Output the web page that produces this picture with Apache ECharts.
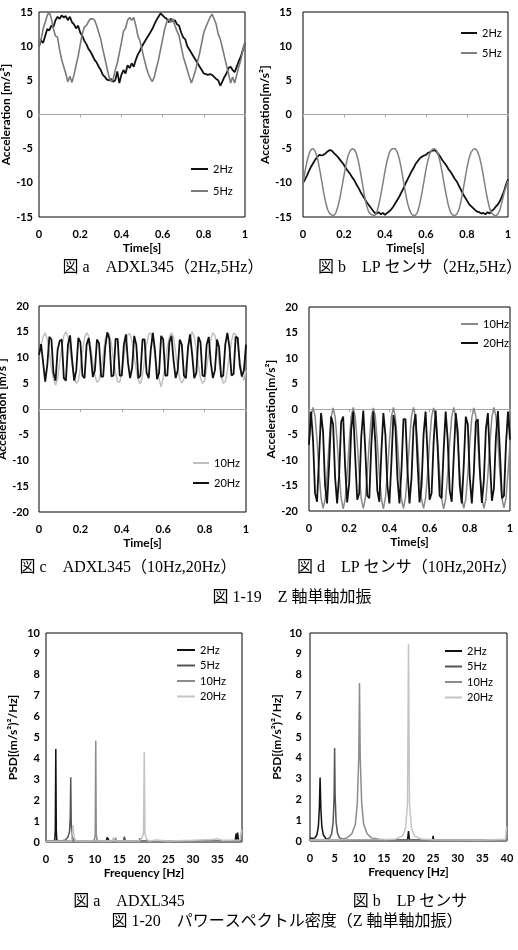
<!DOCTYPE html>
<html>
<head>
<meta charset="utf-8">
<title>Z軸単軸加振</title>
<script src="https://cdn.jsdelivr.net/npm/echarts@6.0.0/dist/echarts.min.js"></script>
<style>
  html, body { margin: 0; padding: 0; background: #fff; }
  #chart { width: 518px; height: 950px; }
</style>
</head>
<body>
<div id="chart"></div>
<script>
// sample times [s]
const time = [
  0, 0.01, 0.02, 0.03, 0.04, 0.05, 0.06, 0.07, 0.08, 0.09,
  0.1, 0.11, 0.12, 0.13, 0.14, 0.15, 0.16, 0.17, 0.18, 0.19,
  0.2, 0.21, 0.22, 0.23, 0.24, 0.25, 0.26, 0.27, 0.28, 0.29,
  0.3, 0.31, 0.32, 0.33, 0.34, 0.35, 0.36, 0.37, 0.38, 0.39,
  0.4, 0.41, 0.42, 0.43, 0.44, 0.45, 0.46, 0.47, 0.48, 0.49,
  0.5, 0.51, 0.52, 0.53, 0.54, 0.55, 0.56, 0.57, 0.58, 0.59,
  0.6, 0.61, 0.62, 0.63, 0.64, 0.65, 0.66, 0.67, 0.68, 0.69,
  0.7, 0.71, 0.72, 0.73, 0.74, 0.75, 0.76, 0.77, 0.78, 0.79,
  0.8, 0.81, 0.82, 0.83, 0.84, 0.85, 0.86, 0.87, 0.88, 0.89,
  0.9, 0.91, 0.92, 0.93, 0.94, 0.95, 0.96, 0.97, 0.98, 0.99,
  1
]

// 図a ADXL345 [m/s^2]
const adxl2Hz = [
  10.0, 10.8, 10.5, 11.5, 12.5, 12.3, 13.0, 12.8, 13.8, 14.3,
  14.0, 14.5, 14.2, 14.4, 13.8, 14.3, 13.5, 13.2, 12.6, 13.0,
  12.0, 11.5, 10.8, 10.3, 9.6, 9.2, 8.6, 8.0, 7.6, 7.0,
  6.5, 5.8, 5.5, 5.1, 5.0, 5.2, 4.8, 5.0, 6.3, 4.6,
  5.8, 6.5, 6.0, 7.2, 6.8, 7.5, 7.0, 8.0, 8.8, 9.3,
  10.0, 10.5, 11.0, 11.5, 12.0, 12.5, 13.2, 13.8, 14.3, 14.8,
  14.5, 14.2, 14.0, 13.5, 14.0, 13.6, 13.8, 13.2, 13.0, 12.0,
  11.3, 11.0, 10.0, 9.5, 9.0, 8.5, 8.0, 7.5, 7.0, 6.5,
  6.0, 5.9, 5.8, 5.9, 5.8, 5.5, 5.2, 5.0, 4.2, 4.8,
  5.5, 6.0, 6.8, 7.0, 6.5, 6.2, 7.0, 7.8, 8.5, 9.5,
  10.5
]
const adxl5Hz = [
  10.0, 11.0, 12.5, 13.5, 14.5, 15.0, 14.0, 12.5, 11.5, 11.3,
  9.5, 8.0, 7.0, 6.0, 4.8, 5.6, 4.7, 5.8, 7.2, 8.5,
  10.2, 11.8, 12.8, 13.0, 13.6, 14.0, 14.0, 13.8, 13.0, 12.0,
  11.0, 9.5, 8.2, 6.8, 5.5, 4.8, 5.2, 6.5, 7.5, 9.0,
  10.5, 12.2, 12.6, 13.8, 14.2, 13.8, 14.2, 13.0, 11.5, 10.8,
  9.5, 8.2, 7.0, 6.0, 5.3, 4.8, 5.5, 6.8, 8.0, 9.5,
  11.0, 12.5, 13.5, 14.0, 13.5, 14.0, 13.0, 12.2, 11.5, 10.0,
  8.5, 7.5, 6.5, 5.5, 4.6, 5.5, 6.5, 7.8, 9.0, 10.5,
  12.0, 12.8, 13.5, 14.2, 14.7, 14.0, 13.2, 11.8, 11.0, 9.8,
  8.5, 7.2, 6.0, 4.6, 5.5, 4.6, 5.8, 7.0, 8.0, 9.5,
  10.5
]

// 図b LPセンサ [m/s^2]
const lp2Hz = [
  -10.0, -9.5, -8.9, -8.2, -7.6, -7.1, -6.6, -6.2, -5.9, -6.0,
  -5.9, -5.7, -5.4, -5.2, -5.3, -5.6, -5.9, -6.2, -6.6, -7.0,
  -7.4, -7.9, -8.3, -8.7, -9.2, -9.6, -10.2, -10.7, -11.3, -11.8,
  -12.3, -12.8, -13.2, -13.6, -14.0, -14.4, -14.5, -14.3, -14.6, -14.4,
  -14.7, -14.4, -14.2, -13.9, -13.5, -13.0, -12.5, -12.0, -11.4, -10.8,
  -10.1, -9.5, -8.9, -8.3, -7.8, -7.2, -6.8, -6.4, -6.2, -6.0,
  -5.9, -5.6, -5.5, -5.3, -5.2, -5.4, -5.8, -6.2, -6.7, -7.1,
  -7.5, -8.0, -8.4, -8.9, -9.4, -9.8, -10.4, -11.0, -11.6, -12.1,
  -12.6, -13.1, -13.4, -13.7, -14.0, -14.2, -14.3, -14.5, -14.4, -14.6,
  -14.3, -14.5, -14.1, -13.9, -13.5, -13.2, -12.7, -12.0, -11.3, -10.3,
  -9.5
]
const lp5Hz = [
  -10.0, -8.3, -6.8, -5.7, -5.1, -5.0, -5.4, -6.3, -7.8, -9.5,
  -11.3, -12.8, -13.9, -14.5, -14.7, -14.8, -14.4, -13.5, -12.2, -10.6,
  -8.9, -7.3, -6.0, -5.3, -5.0, -5.1, -5.7, -6.8, -8.4, -10.2,
  -11.9, -13.3, -14.2, -14.6, -14.7, -14.8, -14.3, -13.2, -11.7, -10.0,
  -8.3, -6.8, -5.7, -5.1, -5.0, -5.0, -5.5, -6.5, -8.0, -9.8,
  -11.5, -13.0, -14.0, -14.6, -14.8, -14.7, -14.2, -13.0, -11.5, -9.8,
  -8.0, -6.6, -5.6, -5.1, -5.0, -5.2, -5.9, -7.1, -8.7, -10.4,
  -12.0, -13.4, -14.3, -14.7, -14.8, -14.6, -14.0, -12.8, -11.2, -9.5,
  -7.8, -6.4, -5.5, -5.1, -5.0, -5.3, -6.1, -7.4, -9.0, -10.8,
  -12.4, -13.7, -14.4, -14.7, -14.8, -14.6, -14.0, -12.9, -11.6, -10.6,
  -9.7
]

// 図c ADXL345 [m/s^2]
const adxl10Hz = [
  10.5, 12.5, 14.0, 14.8, 13.5, 11.0, 8.0, 5.8, 4.6, 6.0,
  9.0, 12.0, 14.2, 15.0, 14.0, 11.5, 8.5, 6.0, 5.0, 5.5,
  8.0, 11.0, 13.8, 14.8, 14.2, 12.0, 9.0, 6.5, 5.2, 5.5,
  7.5, 10.5, 13.5, 14.8, 14.5, 12.5, 9.5, 7.0, 5.3, 5.2,
  7.0, 10.0, 13.0, 14.5, 14.6, 13.0, 10.0, 7.5, 5.5, 4.9,
  6.5, 9.5, 12.5, 14.5, 14.8, 13.5, 10.5, 7.8, 5.8, 4.3,
  6.0, 9.0, 12.0, 14.0, 14.8, 14.0, 11.0, 8.0, 6.0, 5.0,
  5.8, 8.5, 11.5, 14.0, 15.0, 14.0, 11.5, 8.5, 6.0, 5.0,
  5.5, 8.0, 11.0, 13.5, 14.8, 14.3, 12.0, 9.0, 6.5, 5.0,
  5.3, 7.5, 10.5, 13.2, 14.7, 14.5, 12.5, 9.5, 7.0, 5.5,
  7.5
]
const adxl20Hz = [
  10.5, 12.6, 9.0, 5.3, 8.5, 14.0, 13.5, 7.0, 5.5, 11.5,
  13.2, 13.5, 6.0, 5.5, 12.5, 14.3, 9.5, 5.5, 7.5, 13.8,
  13.0, 6.5, 6.0, 12.5, 13.8, 10.5, 6.2, 7.5, 13.5, 12.8,
  6.3, 6.3, 12.0, 14.9, 13.6, 6.3, 6.5, 13.6, 13.6, 6.5,
  6.5, 12.5, 14.5, 9.0, 6.0, 8.0, 14.2, 12.5, 6.0, 6.5,
  13.5, 13.5, 7.0, 6.0, 11.5, 14.8, 11.5, 5.8, 7.0, 14.2,
  13.5, 6.5, 6.5, 13.0, 14.2, 9.5, 6.0, 7.5, 13.5, 12.5,
  6.5, 6.0, 12.0, 14.5, 10.5, 6.0, 7.0, 14.0, 13.0, 6.5,
  6.3, 12.5, 14.0, 9.0, 6.0, 7.5, 13.5, 12.0, 6.2, 6.5,
  12.5, 14.8, 12.0, 6.5, 6.8, 14.0, 13.8, 8.5, 6.3, 7.5,
  12.5
]

// 図d LPセンサ [m/s^2]
const lp10Hz = [
  -6.5, -1.6, 0.3, -1.4, -6.2, -12.5, -17.4, -19.5, -17.8, -12.9,
  -6.6, -1.7, 0.2, -1.5, -6.4, -12.6, -17.5, -19.6, -17.7, -12.8,
  -6.5, -1.5, 0.3, -1.6, -6.5, -12.7, -17.6, -19.5, -17.6, -12.7,
  -6.4, -1.6, 0.2, -1.5, -6.6, -12.8, -17.5, -19.6, -17.5, -12.6,
  -6.5, -1.5, 0.3, -1.7, -6.6, -12.7, -17.7, -19.5, -17.4, -12.5,
  -6.3, -1.4, 0.3, -1.6, -6.7, -12.9, -17.7, -19.5, -17.5, -12.6,
  -6.4, -1.5, 0.2, -1.6, -6.5, -12.8, -17.6, -19.6, -17.6, -12.7,
  -6.5, -1.6, 0.3, -1.5, -6.4, -12.6, -17.5, -19.5, -17.7, -12.8,
  -6.6, -1.7, 0.2, -1.4, -6.3, -12.5, -17.4, -19.5, -17.8, -12.9,
  -6.6, -1.6, 0.3, -1.5, -6.4, -12.7, -17.6, -19.4, -17.5, -12.6,
  -6.5
]
const lp20Hz = [
  -7.0, -0.5, -6.0, -16.5, -18.2, -9.5, -0.8, -4.5, -15.0, -18.5,
  -11.0, -1.5, -3.0, -13.5, -18.5, -13.0, -2.5, -1.5, -11.5, -18.3,
  -14.5, -4.0, -0.5, -9.5, -17.8, -16.5, -5.5, -0.3, -8.0, -17.0,
  -17.5, -7.0, -0.5, -6.5, -16.0, -18.2, -8.5, -0.8, -5.0, -15.0,
  -18.5, -10.5, -1.2, -3.5, -13.5, -18.5, -12.0, -2.0, -2.0, -12.0,
  -18.5, -13.5, -3.5, -1.0, -10.5, -18.3, -15.0, -5.0, -0.5, -9.0,
  -17.8, -16.5, -6.5, -0.3, -7.5, -17.0, -17.5, -8.0, -0.5, -6.0,
  -16.0, -18.2, -9.5, -0.8, -4.5, -15.0, -18.5, -11.0, -1.5, -3.0,
  -13.5, -18.5, -12.5, -2.5, -2.0, -12.0, -18.4, -14.0, -4.0, -0.8,
  -10.0, -18.0, -15.5, -5.5, -0.4, -8.5, -17.5, -17.0, -7.0, -0.5,
  -6.0
]

// 図1-20 パワースペクトル密度 [frequency Hz, PSD (m/s^2)^2/Hz]
const psdAdxl2Hz = [[0, 0.05], [1, 0.04], [1.8, 0.08], [1.9, 0.6], [2.0, 4.45], [2.1, 0.6], [2.2, 0.08], [3, 0.04], [10, 0.03],
  [12.3, 0.05], [12.5, 0.22], [12.7, 0.22], [12.9, 0.05], [20, 0.03], [30, 0.03], [38.6, 0.05], [38.8, 0.4], [38.9, 0.1], [39.1, 0.45], [39.3, 0.05], [40, 0.05]]
const psdAdxl5Hz = [[0, 0.04], [3, 0.05], [4, 0.1], [4.5, 0.25], [4.8, 0.5], [4.95, 1.2], [5.05, 3.1], [5.15, 0.9], [5.3, 0.3], [5.6, 0.1],
  [6.5, 0.05], [15.8, 0.05], [16, 0.25], [16.2, 0.05], [19, 0.05], [19.2, 0.18], [19.4, 0.05], [30, 0.04], [40, 0.04]]
const psdAdxl10Hz = [[0, 0.03], [9, 0.04], [9.9, 0.1], [10.05, 0.4], [10.15, 4.85], [10.25, 0.4], [10.4, 0.1], [11, 0.04],
  [14, 0.05], [14.2, 0.2], [14.4, 0.05], [25, 0.04], [25.2, 0.1], [25.4, 0.04], [40, 0.04]]
const psdAdxl20Hz = [[0, 0.03], [5.2, 0.05], [5.4, 0.6], [5.5, 0.8], [5.7, 0.3], [6, 0.05], [13.5, 0.05], [13.7, 0.2], [13.9, 0.05],
  [19, 0.05], [19.6, 0.2], [19.9, 0.4], [20.05, 4.3], [20.2, 0.4], [20.5, 0.15], [21, 0.05], [22.5, 0.1], [25, 0.05],
  [30, 0.08], [34, 0.12], [35, 0.15], [36, 0.08], [39.6, 0.1], [39.9, 0.6], [40, 0.6]]

const psdLp2Hz = [[0, 0.15], [0.5, 0.12], [1, 0.15], [1.4, 0.3], [1.7, 0.7], [1.9, 1.6], [2.05, 3.05], [2.2, 1.6], [2.4, 0.7], [2.7, 0.3],
  [3.2, 0.12], [4, 0.06], [10, 0.05], [19.8, 0.05], [20, 0.48], [20.2, 0.05], [24.9, 0.05], [25, 0.25], [25.1, 0.05],
  [27.9, 0.05], [28, 0.12], [28.1, 0.05], [29.9, 0.05], [30, 0.1], [30.1, 0.05], [40, 0.05]]
const psdLp5Hz = [[0, 0.05], [3, 0.06], [4, 0.15], [4.4, 0.35], [4.7, 0.9], [4.9, 2.2], [5.0, 4.47], [5.1, 2.2], [5.3, 0.9], [5.6, 0.35],
  [6, 0.15], [7, 0.07], [10, 0.05], [40, 0.04]]
const psdLp10Hz = [[0, 0.05], [6, 0.06], [7.5, 0.15], [8.5, 0.35], [9.2, 0.8], [9.6, 1.8], [9.9, 4.0], [10.05, 7.6], [10.2, 4.0],
  [10.5, 1.8], [10.9, 0.8], [11.6, 0.35], [12.5, 0.15], [14, 0.08], [16, 0.05], [40, 0.04]]
const psdLp20Hz = [[0, 0.05], [15, 0.06], [17.5, 0.1], [18.8, 0.25], [19.4, 0.6], [19.8, 1.8], [20.0, 9.47], [20.2, 1.8], [20.6, 0.6],
  [21.2, 0.25], [22.5, 0.1], [25, 0.06], [35, 0.05], [39.7, 0.08], [39.9, 0.7], [40, 0.7]]

const tickFont = { fontFamily: 'Lato', fontWeight: 'bold', fontSize: 11, color: '#000' }
const nameFont = { fontFamily: 'Lato', fontWeight: 'bold', fontSize: 12, color: '#000' }
const capFont = '16px "Liberation Serif", "Noto Sans CJK JP", serif'

function grid (left, top, width, height) {
  return { left, top, width, height, show: true, borderColor: '#000', borderWidth: 1, backgroundColor: 'transparent', outerBoundsMode: 'none' }
}

function mainX (gridIndex, min, max, interval, name) {
  return {
    type: 'value', gridIndex, min, max, interval, position: 'bottom',
    axisLine: { show: false, onZero: false },
    axisTick: { show: false },
    splitLine: { show: false },
    axisLabel: { ...tickFont, margin: 12 },
    name, nameLocation: 'middle', nameGap: 25, nameTextStyle: { ...nameFont }
  }
}

// grey line at y = 0 with small ticks (Excel horizontal axis)
function zeroX (gridIndex) {
  return {
    type: 'value', gridIndex, min: 0, max: 1, interval: 0.2, position: 'bottom',
    axisLine: { show: true, onZero: true, lineStyle: { color: '#a6a6a6', width: 1 } },
    axisTick: { show: true, length: 3, lineStyle: { color: '#a6a6a6' } },
    axisLabel: { show: false },
    splitLine: { show: false }
  }
}

function yAx (gridIndex, min, max, interval, name, margin, nameGap) {
  return {
    type: 'value', gridIndex, min, max, interval,
    axisLine: { show: false, onZero: false },
    axisTick: { show: false },
    splitLine: { show: false },
    axisLabel: { ...tickFont, margin },
    name, nameLocation: 'middle', nameGap, nameTextStyle: { ...nameFont }
  }
}

function legend (names, left, top, itemGap, itemWidth) {
  return {
    orient: 'vertical', left, top, itemGap, itemWidth, itemHeight: 2,
    padding: 0,
    icon: 'rect',
    data: names,
    selectedMode: false,
    formatter: n => n.slice(2),
    textStyle: { fontFamily: 'Lato', fontSize: 11, color: '#000', lineHeight: 12 }
  }
}

function line (name, xAxisIndex, yAxisIndex, data, color, width) {
  return {
    name, type: 'line', xAxisIndex, yAxisIndex, data,
    symbol: 'none',
    lineStyle: { color, width },
    itemStyle: { color }
  }
}

const ts = vals => time.map((t, i) => [t, vals[i]])

function caption (text, x, y) {
  return { type: 'text', x, y, style: { text, font: capFont, fill: '#000', align: 'center', verticalAlign: 'middle', textAlign: 'center', textVerticalAlign: 'middle' } }
}

const options = {
  animation: false,
  grid: [
    grid(39, 12, 206, 205),
    grid(303, 12, 205, 205),
    grid(39, 306, 207, 206),
    grid(309, 307, 201, 204),
    grid(46, 633, 196, 209),
    grid(310, 633, 197, 208)
  ],
  xAxis: [
    mainX(0, 0, 1, 0.2, 'Time[s]'), zeroX(0),
    mainX(1, 0, 1, 0.2, 'Time[s]'), zeroX(1),
    mainX(2, 0, 1, 0.2, 'Time[s]'), zeroX(2),
    mainX(3, 0, 1, 0.2, 'Time[s]'), zeroX(3),
    mainX(4, 0, 40, 5, 'Frequency [Hz]'),
    mainX(5, 0, 40, 5, 'Frequency [Hz]')
  ],
  yAxis: [
    yAx(0, -15, 15, 5, 'Acceleration [m/s²]', 6, 20),
    yAx(1, -15, 15, 5, 'Acceleration[m/s²]', 11, 20),
    yAx(2, -20, 20, 5, 'Acceleration [m/s²]', 10, 19),
    yAx(3, -20, 20, 5, 'Acceleration[m/s²]', 11, 22),
    yAx(4, 0, 10, 1, 'PSD[(m/s²)²/Hz]', 6, 27),
    yAx(5, 0, 10, 1, 'PSD[(m/s²)²/Hz]', 8, 27)
  ],
  legend: [
    legend(['a:2Hz', 'a:5Hz'], 191, 163, 10, 17),
    legend(['b:2Hz', 'b:5Hz'], 461, 27, 8, 16),
    legend(['c:10Hz', 'c:20Hz'], 193, 457, 8, 16),
    legend(['d:10Hz', 'd:20Hz'], 461, 318, 7, 17),
    legend(['e:2Hz', 'e:5Hz', 'e:10Hz', 'e:20Hz'], 177, 644, 3.5, 18),
    legend(['f:2Hz', 'f:5Hz', 'f:10Hz', 'f:20Hz'], 445, 645, 3.5, 17)
  ],
  series: [
    line('a:2Hz', 0, 0, ts(adxl2Hz), '#111', 1.8),
    line('a:5Hz', 0, 0, ts(adxl5Hz), '#7a7a7a', 1.6),
    line('b:2Hz', 2, 1, ts(lp2Hz), '#111', 1.8),
    line('b:5Hz', 2, 1, ts(lp5Hz), '#808080', 1.5),
    line('c:10Hz', 4, 2, ts(adxl10Hz), '#c0c0c0', 1.5),
    line('c:20Hz', 4, 2, ts(adxl20Hz), '#111', 1.8),
    line('d:10Hz', 6, 3, ts(lp10Hz), '#8a8a8a', 1.5),
    line('d:20Hz', 6, 3, ts(lp20Hz), '#111', 1.8),
    line('e:2Hz', 8, 4, psdAdxl2Hz, '#111', 1.5),
    line('e:5Hz', 8, 4, psdAdxl5Hz, '#555', 1.5),
    line('e:10Hz', 8, 4, psdAdxl10Hz, '#8c8c8c', 1.5),
    line('e:20Hz', 8, 4, psdAdxl20Hz, '#c4c4c4', 1.5),
    line('f:2Hz', 9, 5, psdLp2Hz, '#111', 1.5),
    line('f:5Hz', 9, 5, psdLp5Hz, '#555', 1.5),
    line('f:10Hz', 9, 5, psdLp10Hz, '#8c8c8c', 1.5),
    line('f:20Hz', 9, 5, psdLp20Hz, '#c4c4c4', 1.5)
  ],
  graphic: [
    caption('図 a　ADXL345（2Hz,5Hz）', 163, 268),
    caption('図 b　LP センサ（2Hz,5Hz）', 420, 268),
    caption('図 c　ADXL345（10Hz,20Hz）', 128, 568),
    caption('図 d　LP センサ（10Hz,20Hz）', 407, 568),
    caption('図 1-19　Z 軸単軸加振', 292, 598),
    caption('図 a　ADXL345', 129, 902),
    caption('図 b　LP センサ', 410, 902),
    caption('図 1-20　パワースペクトル密度（Z 軸単軸加振）', 287, 922)
  ]
}

const myChart = echarts.init(document.getElementById('chart'))
myChart.setOption(options)
</script>
</body>
</html>
